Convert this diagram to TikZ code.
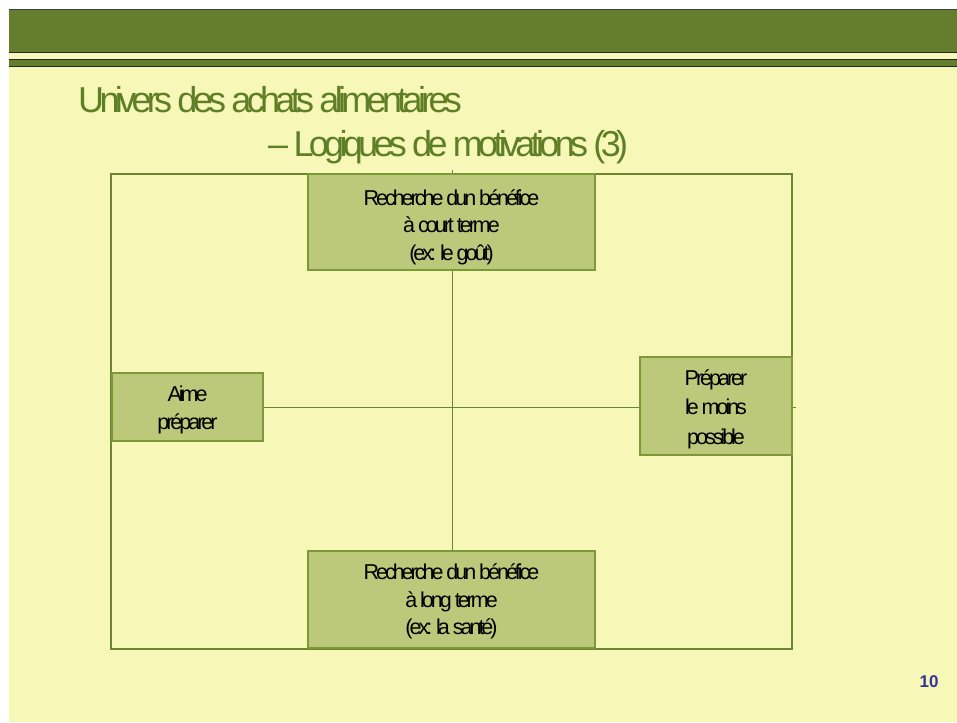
\documentclass[tikz,border=0pt]{standalone}
\usepackage{fontspec}
\setmainfont{Liberation Sans}
\newfontfamily\titlefont[LetterSpace=-13]{Liberation Sans}
\newfontfamily\boxfont[LetterSpace=-14]{Liberation Sans}
\definecolor{slidebg}{HTML}{F7F8B8}
\definecolor{headgreen}{HTML}{647D2E}
\definecolor{titlegreen}{HTML}{5F7F27}
\definecolor{boxfill}{HTML}{BCC87A}
\definecolor{boxline}{HTML}{7D9838}
\definecolor{framecol}{HTML}{6E8432}
\definecolor{numblue}{HTML}{333399}
\tikzset{
  mbox/.style={draw=boxline, line width=1.4pt, fill=boxfill, inner sep=0pt},
  btext/.style={inner sep=0pt, align=center, text=black,
    font=\boxfont\fontsize{21.5}{27.5}\selectfont},
  axisline/.style={draw=framecol, line width=1pt},
  titletext/.style={inner sep=0pt, text=titlegreen, font=\titlefont\fontsize{36}{40}\selectfont}
}
\begin{document}
\begin{tikzpicture}[x=1pt,y=-1pt]
\useasboundingbox (0,0) rectangle (957,722);
\fill[white] (0,0) rectangle (957,722);
\fill[slidebg] (9,9) rectangle (957,722);
% header band
\fill[headgreen] (9,9.5) rectangle (957,52.5);
\draw[black!75, line width=1.2pt] (9,9.6) -- (957,9.6);
\draw[black!85, line width=1.3pt] (9,52.8) -- (957,52.8);
\fill[headgreen] (9,59.5) rectangle (957,66.5);
\draw[black!85, line width=1.2pt] (9,59.6) -- (957,59.6);
\draw[black!85, line width=1.3pt] (9,66.8) -- (957,66.8);
% title
\node[titletext, anchor=base west] (t1) at (78,113) {Univers des achats alimentaires};
\node[titletext, anchor=base west] (t2) at (268,157) {– Logiques de motivations (3)};
% frame
\draw[draw=framecol, line width=1.5pt] (111,174) rectangle (792,649);
% axes
\coordinate (vtop) at (452,170);
\coordinate (vbot) at (452,551);
\coordinate (hl) at (263,407);
\coordinate (hr) at (796,407);
\draw[axisline] (vtop) -- (vbot);
\draw[axisline] (hl) -- (hr);
% boxes
\node[mbox, minimum width=287pt, minimum height=96pt] (top) at (451.5,222) {};
\node[btext] (topt) at ([yshift=-5pt]top.center)
  {Recherche dun bénéfice\\à court terme\\(ex: le goût)};
\node[mbox, minimum width=287pt, minimum height=97pt] (bottom) at (451.5,599.5) {};
\node[btext] (bottomt) at ([yshift=-2pt]bottom.center)
  {Recherche dun bénéfice\\à long terme\\(ex: la santé)};
\node[mbox, minimum width=151pt, minimum height=68pt] (left) at (187.5,407) {};
\node[btext, font=\boxfont\fontsize{21.5}{28}\selectfont] (leftt) at ([yshift=-3pt]left.center)
  {Aime\\préparer};
\node[mbox, minimum width=152pt, minimum height=98pt] (right) at (716,406) {};
\node[btext, font=\boxfont\fontsize{21.5}{29.5}\selectfont] (rightt) at ([yshift=-3pt]right.center)
  {Préparer\\le moins\\possible};
% page number
\node[inner sep=0pt, text=numblue, font=\bfseries\fontsize{17}{20}\selectfont] (num) at (929,682) {10};
\end{tikzpicture}
\end{document}
